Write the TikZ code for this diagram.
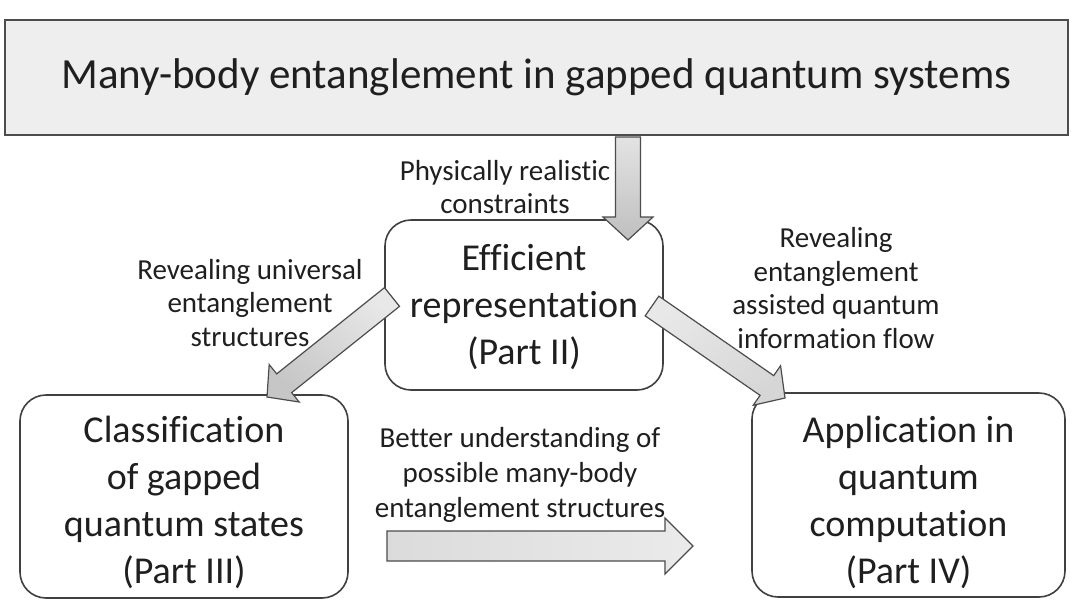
\documentclass[tikz,border=0pt]{standalone}
\usepackage{fontspec}
\setmainfont{Carlito}[Ligatures=NoCommon]
\usetikzlibrary{calc}
\newcommand{\barrow}[6][]{%
  \coordinate (bah) at ($(#3)!#6!(#2)$);
  \draw[blockarrow,#1] ($(#2)!#4!90:(#3)$) -- ($(bah)!#4!90:(#3)$) -- ($(bah)!#5!90:(#3)$) -- (#3)
    -- ($(bah)!#5!-90:(#3)$) -- ($(bah)!#4!-90:(#3)$) -- ($(#2)!#4!-90:(#3)$) -- cycle;}
\begin{document}
\begin{tikzpicture}[x=1pt,y=-1pt,
  every node/.style={text=black!88},
  titlesty/.style={draw=black!70, line width=1.4pt, fill=gray!13, inner sep=0pt,
    font=\fontsize{43}{50}\selectfont},
  boxsty/.style={draw=black!75, line width=1.6pt, rounded corners=26pt, fill=white, inner sep=0pt},
  boxtext/.style={align=center, inner sep=0pt, font=\fontsize{38}{47}\selectfont},
  lbl/.style={align=center, inner sep=0pt, font=\fontsize{29}{33.5}\selectfont},
  blockarrow/.style={draw=black!70, line width=1.2pt, line join=miter}
]
\useasboundingbox (0,0) rectangle (1072,600);

% title
\node[titlesty, minimum width=1063, minimum height=115] (title) at (536.5,77.5)
  {Many-body entanglement in gapped quantum systems};

% boxes
\node[boxsty, minimum width=278, minimum height=170] (mid) at (524,305) {};
\node[boxtext] (midtext) at ([yshift=-2pt]mid.center) {Efficient\\representation\\(Part II)};
\node[boxsty, minimum width=328, minimum height=203] (left) at (184,496.5) {};
\node[boxtext] (lefttext) at ([yshift=-6pt]left.center) {Classification\\of gapped\\quantum states\\(Part III)};
\node[boxsty, minimum width=313, minimum height=204] (right) at (908.5,495) {};
\node[boxtext] (righttext) at ([yshift=-7pt]right.center) {Application in\\quantum\\computation\\(Part IV)};

% labels
\node[lbl] (lphys) at (505,187) {Physically realistic\\constraints};
\node[lbl] (lleft) at (250,303) {Revealing universal\\entanglement\\structures};
\node[lbl] (lright) at (836,288) {Revealing\\entanglement\\assisted quantum\\information flow};
\node[lbl, font=\fontsize{29}{35}\selectfont] (lbottom) at (520,475) {Better understanding of\\possible many-body\\entanglement structures};

% arrow end points
\coordinate (dT) at (628,137);
\coordinate (dP) at (628,240);
\coordinate (lT) at (392,297);
\coordinate (lP) at (267,397);
\coordinate (rT) at (652,306);
\coordinate (rP) at (785,398);
\coordinate (bT) at (387,546);
\coordinate (bP) at (693,546);

\barrow[top color=gray!22, bottom color=gray!50]{dT}{dP}{12.5pt}{25pt}{23pt}
\barrow[top color=gray!18, bottom color=gray!45, shading angle=-40]{lT}{lP}{12pt}{24pt}{22pt}
\barrow[top color=gray!18, bottom color=gray!32, shading angle=40]{rT}{rP}{12pt}{24pt}{22pt}
\barrow[left color=gray!28, right color=gray!16]{bT}{bP}{15pt}{28pt}{28pt}
\end{tikzpicture}
\end{document}
